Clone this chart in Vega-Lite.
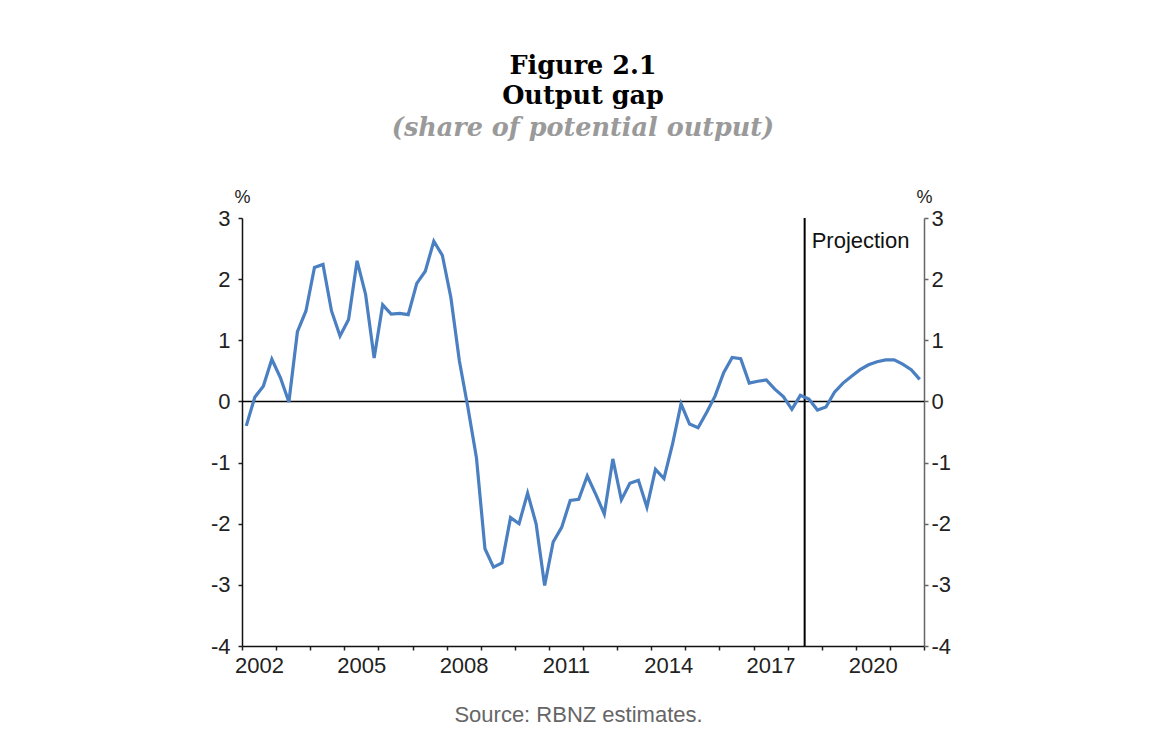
{
  "$schema": "https://vega.github.io/schema/vega-lite/v6.json",
  "width": 682,
  "height": 428,
  "autosize": {"type": "none"},
  "padding": {"left": 242, "top": 218, "right": 242, "bottom": 106},
  "background": "white",
  "config": {
    "view": {"stroke": null},
    "font": "Liberation Sans",
    "axis": {"grid": false, "labelFont": "Liberation Sans", "labelFontSize": 22, "labelColor": "#222", "tickColor": "#222", "tickSize": 4, "domainWidth": 1.5, "tickWidth": 1.5, "labelOverlap": false, "labelBound": false}
  },
  "title": {
    "text": ["Figure 2.1", "Output gap"],
    "subtitle": "(share of potential output)",
    "font": "DejaVu Serif",
    "fontSize": 25.5,
    "fontWeight": "bold",
    "color": "#000",
    "lineHeight": 30,
    "subtitleFont": "DejaVu Serif",
    "subtitleFontSize": 25.5,
    "subtitleFontStyle": "italic",
    "subtitleFontWeight": "bold",
    "subtitleColor": "#9a9a9a",
    "subtitlePadding": 6,
    "anchor": "middle",
    "offset": 47
  },
  "datasets": {
    "gap": [
      {"t": 2002.125, "v": -0.40}, {"t": 2002.375, "v": 0.07}, {"t": 2002.625, "v": 0.25}, {"t": 2002.875, "v": 0.69},
      {"t": 2003.125, "v": 0.39}, {"t": 2003.375, "v": -0.01}, {"t": 2003.625, "v": 1.14}, {"t": 2003.875, "v": 1.48},
      {"t": 2004.125, "v": 2.19}, {"t": 2004.375, "v": 2.24}, {"t": 2004.625, "v": 1.48}, {"t": 2004.875, "v": 1.07},
      {"t": 2005.125, "v": 1.34}, {"t": 2005.375, "v": 2.30}, {"t": 2005.625, "v": 1.75}, {"t": 2005.875, "v": 0.71},
      {"t": 2006.125, "v": 1.58}, {"t": 2006.375, "v": 1.43}, {"t": 2006.625, "v": 1.44}, {"t": 2006.875, "v": 1.42},
      {"t": 2007.125, "v": 1.93}, {"t": 2007.375, "v": 2.13}, {"t": 2007.625, "v": 2.62}, {"t": 2007.875, "v": 2.39},
      {"t": 2008.125, "v": 1.70}, {"t": 2008.375, "v": 0.66}, {"t": 2008.625, "v": -0.10}, {"t": 2008.875, "v": -0.92},
      {"t": 2009.125, "v": -2.41}, {"t": 2009.375, "v": -2.71}, {"t": 2009.625, "v": -2.64}, {"t": 2009.875, "v": -1.90},
      {"t": 2010.125, "v": -2.00}, {"t": 2010.375, "v": -1.50}, {"t": 2010.625, "v": -2.00}, {"t": 2010.875, "v": -3.01},
      {"t": 2011.125, "v": -2.30}, {"t": 2011.375, "v": -2.06}, {"t": 2011.625, "v": -1.62}, {"t": 2011.875, "v": -1.60},
      {"t": 2012.125, "v": -1.22}, {"t": 2012.375, "v": -1.52}, {"t": 2012.625, "v": -1.84}, {"t": 2012.875, "v": -0.94},
      {"t": 2013.125, "v": -1.61}, {"t": 2013.375, "v": -1.34}, {"t": 2013.625, "v": -1.29}, {"t": 2013.875, "v": -1.73},
      {"t": 2014.125, "v": -1.11}, {"t": 2014.375, "v": -1.26}, {"t": 2014.625, "v": -0.70}, {"t": 2014.875, "v": -0.04},
      {"t": 2015.125, "v": -0.37}, {"t": 2015.375, "v": -0.43}, {"t": 2015.625, "v": -0.18}, {"t": 2015.875, "v": 0.09},
      {"t": 2016.125, "v": 0.47}, {"t": 2016.375, "v": 0.72}, {"t": 2016.625, "v": 0.70}, {"t": 2016.875, "v": 0.30},
      {"t": 2017.125, "v": 0.33}, {"t": 2017.375, "v": 0.35}, {"t": 2017.625, "v": 0.20}, {"t": 2017.875, "v": 0.08},
      {"t": 2018.125, "v": -0.13}, {"t": 2018.375, "v": 0.10}, {"t": 2018.625, "v": 0.04}, {"t": 2018.875, "v": -0.14},
      {"t": 2019.125, "v": -0.09}, {"t": 2019.375, "v": 0.15}, {"t": 2019.625, "v": 0.30}, {"t": 2019.875, "v": 0.41},
      {"t": 2020.125, "v": 0.52}, {"t": 2020.375, "v": 0.60}, {"t": 2020.625, "v": 0.65}, {"t": 2020.875, "v": 0.68},
      {"t": 2021.125, "v": 0.68}, {"t": 2021.375, "v": 0.61}, {"t": 2021.625, "v": 0.52}, {"t": 2021.875, "v": 0.36}
    ],
    "proj": [{"t": 2018.5, "v": 2.62, "label": "Projection"}],
    "zero": [{"t": 2002, "v": 0}]
  },
  "layer": [
    {
      "data": {"name": "zero"},
      "mark": {"type": "rule", "color": "#000", "strokeWidth": 1.5},
      "encoding": {
        "y": {
          "field": "v", "type": "quantitative",
          "scale": {"domain": [-4, 3], "nice": false, "zero": false},
          "axis": {"orient": "right", "values": [-4, -3, -2, -1, 0, 1, 2, 3], "labelExpr": "datum.value < 0 ? '-' + abs(datum.value) : '' + datum.value", "domainColor": "#666", "tickColor": "#666", "labelPadding": 3, "title": "%", "titleAngle": 0, "titleX": 0, "titleY": -12, "titleAlign": "center", "titleBaseline": "bottom", "titleFontSize": 18, "titleFontWeight": "normal", "titleColor": "#222", "titleFont": "Liberation Sans"}
        }
      }
    },
    {
      "data": {"name": "proj"},
      "mark": {"type": "rule", "color": "#000", "strokeWidth": 2},
      "encoding": {
        "x": {"field": "t", "type": "quantitative", "scale": {"domain": [2002, 2022], "nice": false, "zero": false}, "axis": null}
      }
    },
    {
      "data": {"name": "gap"},
      "mark": {"type": "line", "color": "#4a7fc1", "strokeWidth": 3.2, "strokeJoin": "miter"},
      "encoding": {
        "x": {
          "field": "t", "type": "quantitative",
          "scale": {"domain": [2002, 2022], "nice": false, "zero": false},
          "axis": {"orient": "bottom", "values": [2002, 2003, 2004, 2005, 2006, 2007, 2008, 2009, 2010, 2011, 2012, 2013, 2014, 2015, 2016, 2017, 2018, 2019, 2020, 2021, 2022], "labels": false, "domainColor": "#111", "title": "Source: RBNZ estimates.", "titleFont": "Liberation Sans", "titleFontSize": 22, "titleFontWeight": "normal", "titleColor": "#666", "titlePadding": 54, "titleX": 336}
        },
        "y": {
          "field": "v", "type": "quantitative",
          "scale": {"domain": [-4, 3], "nice": false, "zero": false},
          "axis": {"values": [-4, -3, -2, -1, 0, 1, 2, 3], "labelExpr": "datum.value < 0 ? '-' + abs(datum.value) : '' + datum.value", "domainColor": "#111", "labelPadding": 8, "title": "%", "titleAngle": 0, "titleX": 0, "titleY": -12, "titleAlign": "center", "titleBaseline": "bottom", "titleFontSize": 18, "titleFontWeight": "normal", "titleColor": "#222", "titleFont": "Liberation Sans"}
        }
      }
    },
    {
      "data": {"name": "proj"},
      "mark": {"type": "text", "align": "left", "baseline": "middle", "dx": 7, "fontSize": 22, "font": "Liberation Sans", "color": "#111"},
      "encoding": {
        "x": {
          "field": "t", "type": "quantitative",
          "scale": {"domain": [2002, 2022], "nice": false, "zero": false},
          "axis": {"orient": "bottom", "values": [2002, 2005, 2008, 2011, 2014, 2017, 2020], "labelExpr": "'' + datum.value", "ticks": false, "domain": false, "labelOffset": 17, "labelFlush": false, "labelPadding": 9, "title": null}
        },
        "y": {"field": "v", "type": "quantitative", "scale": {"domain": [-4, 3], "nice": false, "zero": false}, "axis": null},
        "text": {"field": "label"}
      }
    }
  ],
  "resolve": {"scale": {"y": "independent"}, "axis": {"x": "independent"}}
}
